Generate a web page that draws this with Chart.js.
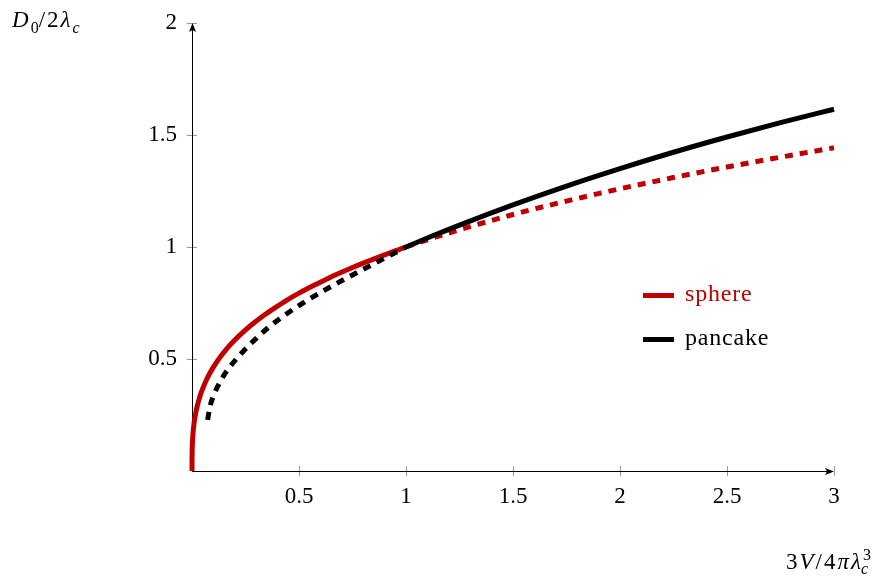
<!DOCTYPE html>
<html>
<head>
    <title>sphere vs pancake</title>
    <script src="https://cdn.jsdelivr.net/npm/chart.js@4.4.0/dist/chart.umd.min.js"></script>
    <style>
        body { margin: 0; background: #fff; }
        .wrap { position: relative; width: 883px; height: 576px; }
        .lbl { position: absolute; font-family: "Liberation Serif", serif; font-size: 23px; line-height: 28px; letter-spacing: 2px; color: #000; white-space: nowrap; }
        .lbl i { font-style: italic; }
        .lbl sub, .lbl sup { font-size: 16px; letter-spacing: 0; }
        .leg { position: absolute; font-family: "Liberation Serif", serif; font-size: 24px; line-height: 28px; letter-spacing: 0.8px; white-space: nowrap; }
        .leg span { display: inline-block; width: 31px; height: 5px; vertical-align: middle; margin-right: 11px; }
    </style>
</head>
<body>
<div class="wrap">
    <canvas id="myChart" width="883" height="576"></canvas>
    <div class="lbl" style="left:12px; top:6px;"><i>D</i><sub>0</sub>/2<i>λ</i><sub><i>c</i></sub></div>
    <div class="lbl" style="left:786px; top:541px;">3<i>V</i>/4<i>π</i><i>λ</i><sup>3</sup><sub style="margin-left:-10px"><i>c</i></sub></div>
    <div class="leg" style="left:643px; top:279px; color:#c00000;"><span style="background:#c00000"></span>sphere</div>
    <div class="leg" style="left:643px; top:323px; color:#000;"><span style="background:#000"></span>pancake</div>
</div>

<script>
    // values
    var sphereSolidX = [0, 0.0005, 0.001, 0.002, 0.004, 0.006, 0.008, 0.012, 0.016, 0.02, 0.025, 0.03, 0.04, 0.05, 0.06, 0.07, 0.08, 0.1, 0.12, 0.14, 0.17, 0.2, 0.24, 0.28, 0.33, 0.38, 0.44, 0.5, 0.57, 0.64, 0.72, 0.8, 0.9, 1];
    var sphereSolidY = [0, 0.08, 0.1, 0.126, 0.159, 0.182, 0.2, 0.229, 0.252, 0.271, 0.292, 0.31, 0.342, 0.368, 0.391, 0.412, 0.431, 0.464, 0.493, 0.519, 0.554, 0.585, 0.621, 0.654, 0.691, 0.724, 0.761, 0.794, 0.829, 0.862, 0.896, 0.928, 0.965, 1];
    var sphereDashX = [1, 1.125, 1.25, 1.5, 1.75, 2, 2.25, 2.5, 2.75, 3];
    var sphereDashY = [1, 1.04, 1.077, 1.145, 1.205, 1.26, 1.31, 1.357, 1.401, 1.443];

    var pancakeDashX = [0.073, 0.08, 0.089, 0.1, 0.112, 0.13, 0.151, 0.175, 0.198, 0.22, 0.24, 0.27, 0.3, 0.35, 0.41, 0.47, 0.535, 0.6, 0.66, 0.72, 0.8, 0.86, 0.93, 1];
    var pancakeDashY = [0.228, 0.268, 0.305, 0.335, 0.362, 0.396, 0.43, 0.462, 0.49, 0.514, 0.535, 0.564, 0.592, 0.635, 0.68, 0.72, 0.76, 0.797, 0.829, 0.86, 0.9, 0.93, 0.965, 1];
    var pancakeSolidX = [1, 1.125, 1.25, 1.5, 1.75, 2, 2.25, 2.5, 2.75, 3];
    var pancakeSolidY = [1, 1.05, 1.098, 1.188, 1.272, 1.35, 1.423, 1.491, 1.555, 1.615];

    var xTicks = [0.5, 1, 1.5, 2, 2.5, 3];
    var yTicks = [0.5, 1, 1.5, 2];

    var red = "#c00000";

    function pts(xs, ys) {
        return xs.map((x, i) => ({ x: x, y: ys[i] }));
    }

    function line(xs, ys, color, dashed, order) {
        return {
            data: pts(xs, ys),
            borderColor: color,
            borderWidth: 5,
            borderDash: dashed ? [8, 7] : [],
            pointRadius: 0,
            cubicInterpolationMode: "monotone",
            fill: false,
            clip: false,
            order: order
        };
    }

    // axes with arrows and crossing tick marks
    var axesPlugin = {
        id: "axes",
        beforeDatasetsDraw(chart) {
            var ctx = chart.ctx;
            var xs = chart.scales.x, ys = chart.scales.y;
            var x0 = xs.getPixelForValue(0), y0 = ys.getPixelForValue(0);
            var xEnd = xs.getPixelForValue(3), yEnd = ys.getPixelForValue(2);
            ctx.save();
            ctx.strokeStyle = "#999";
            ctx.lineWidth = 1;
            xTicks.forEach(v => {
                var p = Math.round(xs.getPixelForValue(v)) + 0.5;
                ctx.beginPath(); ctx.moveTo(p, y0 - 5); ctx.lineTo(p, y0 + 5); ctx.stroke();
            });
            yTicks.forEach(v => {
                var p = Math.round(ys.getPixelForValue(v)) + 0.5;
                ctx.beginPath(); ctx.moveTo(x0 - 5, p); ctx.lineTo(x0 + 5, p); ctx.stroke();
            });
            ctx.strokeStyle = "#000";
            ctx.fillStyle = "#000";
            ctx.beginPath();
            ctx.moveTo(x0, y0 + 0.5); ctx.lineTo(xEnd - 6, y0 + 0.5);
            ctx.moveTo(x0 + 0.5, y0); ctx.lineTo(x0 + 0.5, yEnd + 6);
            ctx.stroke();
            ctx.beginPath();
            ctx.moveTo(xEnd, y0 + 0.5); ctx.lineTo(xEnd - 9, y0 - 3); ctx.lineTo(xEnd - 7, y0 + 0.5); ctx.lineTo(xEnd - 9, y0 + 4); ctx.closePath();
            ctx.fill();
            ctx.beginPath();
            ctx.moveTo(x0 + 0.5, yEnd); ctx.lineTo(x0 - 3, yEnd + 9); ctx.lineTo(x0 + 0.5, yEnd + 7); ctx.lineTo(x0 + 4, yEnd + 9); ctx.closePath();
            ctx.fill();
            ctx.restore();
        }
    };

    var tickFont = { family: "Liberation Serif", size: 23 };

    new Chart(document.getElementById("myChart"), {
        type: "line",
        data: {
            datasets: [
                line(pancakeSolidX, pancakeSolidY, "#000", false, 1),
                line(pancakeDashX, pancakeDashY, "#000", true, 1),
                line(sphereSolidX, sphereSolidY, red, false, 2),
                line(sphereDashX, sphereDashY, red, true, 2)
            ]
        },
        options: {
            responsive: false,
            animation: false,
            layout: { padding: { left: 0, right: 49, top: 23, bottom: 0 } },
            plugins: { legend: { display: false }, tooltip: { enabled: false } },
            scales: {
                x: {
                    type: "linear", min: 0, max: 3,
                    grid: { display: false, drawTicks: false },
                    border: { display: false },
                    ticks: {
                        stepSize: 0.5, padding: 12, color: "#000", font: tickFont, maxRotation: 0,
                        callback: v => v === 0 ? "" : v
                    },
                    afterFit: s => { s.height = 105; s.paddingLeft = 0; s.paddingRight = 0; }
                },
                y: {
                    type: "linear", min: 0, max: 2,
                    grid: { display: false, drawTicks: false },
                    border: { display: false },
                    ticks: {
                        stepSize: 0.5, padding: 15, color: "#000", font: tickFont,
                        callback: v => v === 0 ? "" : v
                    },
                    afterFit: s => { s.width = 192; s.paddingTop = 0; s.paddingBottom = 0; }
                }
            }
        },
        plugins: [axesPlugin]
    });
</script>
</body>
</html>
